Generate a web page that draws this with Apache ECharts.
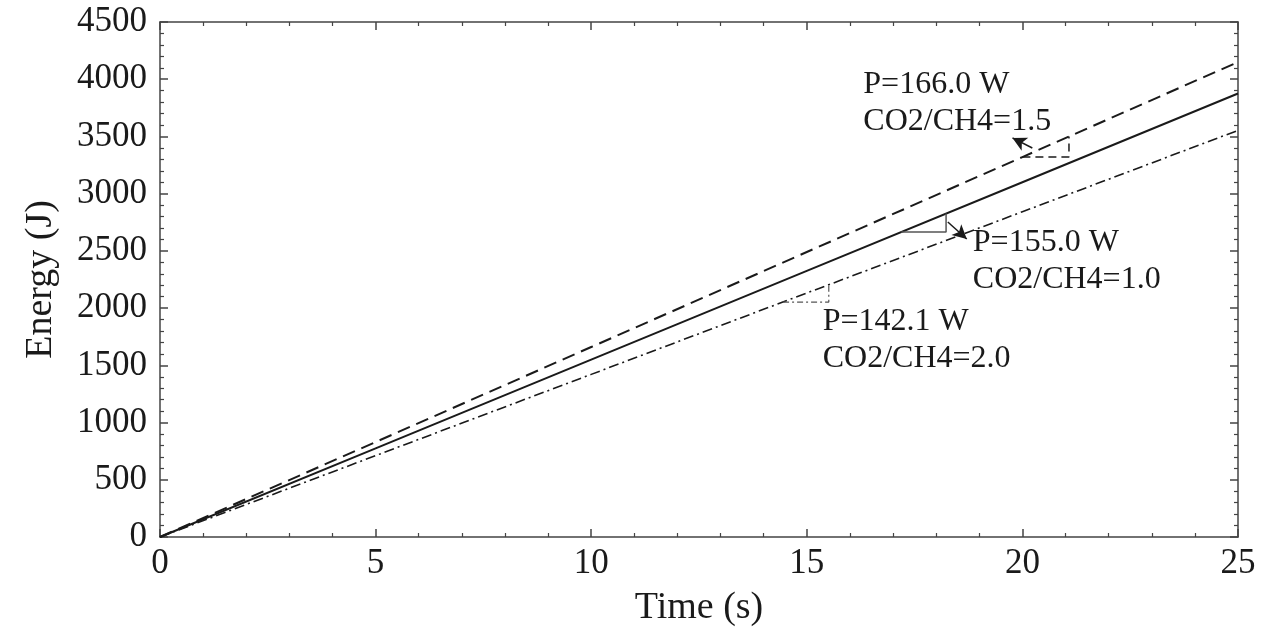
<!doctype html>
<html>
<head>
<meta charset="utf-8">
<title>Energy vs time</title>
<script src="https://cdn.jsdelivr.net/npm/echarts@6/dist/echarts.min.js"></script>
<style>
  html, body { margin: 0; padding: 0; background: #fff; }
  #main { width: 1270px; height: 638px; }
</style>
</head>
<body>
<div id="main"></div>
<script>
// time axis (s)
var times = [0, 5, 10, 15, 20, 25];
// energy (J)
var energyP166 = [0, 830, 1660, 2490, 3320, 4150];
var energyP155 = [0, 775, 1550, 2325, 3100, 3875];
var energyP142 = [0, 711, 1421, 2132, 2842, 3553];

// slope triangles drawn on each line
var triP166 = [[20.0, 3320], [21.08, 3320], [21.08, 3499]];
var triP155 = [[17.19, 2665], [18.23, 2665], [18.23, 2826]];
var triP142 = [[14.45, 2053], [15.51, 2053], [15.51, 2204]];

// arrows from triangle to label
var arrowP166 = [[20.23, 3399], [19.77, 3487]];
var arrowP155 = [[18.27, 2753], [18.71, 2604]];

// label anchors (left edge, vertical middle of the two lines)
var notes = [
  { pos: [16.31, 3790], text: 'P=166.0 W\nCO2/CH4=1.5' },
  { pos: [18.85, 2407], text: 'P=155.0 W\nCO2/CH4=1.0' },
  { pos: [15.37, 1721], text: 'P=142.1 W\nCO2/CH4=2.0' }
];

var FONT = 'Liberation Serif';
var INK = '#1a1a1a';

function pairs(xs, ys) {
  return xs.map(function (x, i) { return [x, ys[i]]; });
}

function arrowLine(pts) {
  return {
    silent: true,
    symbol: ['none', 'arrow'],
    symbolSize: [11, 14],
    label: { show: false },
    lineStyle: { color: INK, width: 1.5, type: 'solid' },
    data: [[{ coord: pts[0] }, { coord: pts[1] }]]
  };
}

var chart = echarts.init(document.getElementById('main'));

function axisBase() {
  return {
    axisLine: { show: true, onZero: false, lineStyle: { color: '#444', width: 1.5 } },
    axisTick: { show: true, inside: true, length: 8, lineStyle: { color: '#444', width: 1.5 } },
    minorTick: { show: true, splitNumber: 5, length: 4, lineStyle: { color: '#444', width: 1.2 } },
    splitLine: { show: false }
  };
}

chart.setOption({
  animation: false,
  backgroundColor: '#fff',
  grid: { left: 160, right: 32, top: 22, bottom: 101 },
  xAxis: [
    Object.assign(axisBase(), {
      type: 'value', min: 0, max: 25, interval: 5, position: 'bottom',
      name: 'Time (s)', nameLocation: 'middle', nameGap: 52,
      nameTextStyle: { fontFamily: FONT, fontSize: 38, color: INK },
      axisLabel: { fontFamily: FONT, fontSize: 35, color: INK, margin: 9,
        formatter: function (v) { return String(v); } }
    }),
    Object.assign(axisBase(), {
      type: 'value', min: 0, max: 25, interval: 5, position: 'top',
      axisLabel: { show: false }
    })
  ],
  yAxis: [
    Object.assign(axisBase(), {
      type: 'value', min: 0, max: 4500, interval: 500, position: 'left',
      name: 'Energy (J)', nameLocation: 'middle', nameGap: 100,
      nameTextStyle: { fontFamily: FONT, fontSize: 38, color: INK },
      axisLabel: { fontFamily: FONT, fontSize: 35, color: INK, margin: 13,
        formatter: function (v) { return String(v); } }
    }),
    Object.assign(axisBase(), {
      type: 'value', min: 0, max: 4500, interval: 500, position: 'right',
      axisLabel: { show: false }
    })
  ],
  series: [
    {
      type: 'line', name: 'P=166.0 W', showSymbol: false, silent: true,
      data: pairs(times, energyP166),
      lineStyle: { color: INK, width: 2, type: [13, 7] },
      markLine: arrowLine(arrowP166)
    },
    {
      type: 'line', name: 'P=155.0 W', showSymbol: false, silent: true,
      data: pairs(times, energyP155),
      lineStyle: { color: INK, width: 2, type: 'solid' },
      markLine: arrowLine(arrowP155)
    },
    {
      type: 'line', name: 'P=142.1 W', showSymbol: false, silent: true,
      data: pairs(times, energyP142),
      lineStyle: { color: INK, width: 1.6, type: [10, 4, 2, 4] }
    },
    {
      type: 'line', showSymbol: false, silent: true, data: triP166,
      lineStyle: { color: INK, width: 1.5, type: [8, 5] }
    },
    {
      type: 'line', showSymbol: false, silent: true, data: triP155,
      lineStyle: { color: '#555', width: 1.5, type: 'solid' }
    },
    {
      type: 'line', showSymbol: false, silent: true, data: triP142,
      lineStyle: { color: '#555', width: 1.2, type: [6, 3, 2, 3] }
    },
    {
      type: 'scatter', silent: true, symbolSize: 0,
      itemStyle: { opacity: 1 },
      data: notes.map(function (n) { return { value: n.pos, text: n.text }; }),
      label: {
        show: true, position: 'right', distance: 0, opacity: 1,
        align: 'left', verticalAlign: 'middle',
        fontFamily: FONT, fontSize: 32, lineHeight: 37, color: INK,
        formatter: function (p) { return p.data.text; }
      }
    }
  ]
});
</script>
</body>
</html>
